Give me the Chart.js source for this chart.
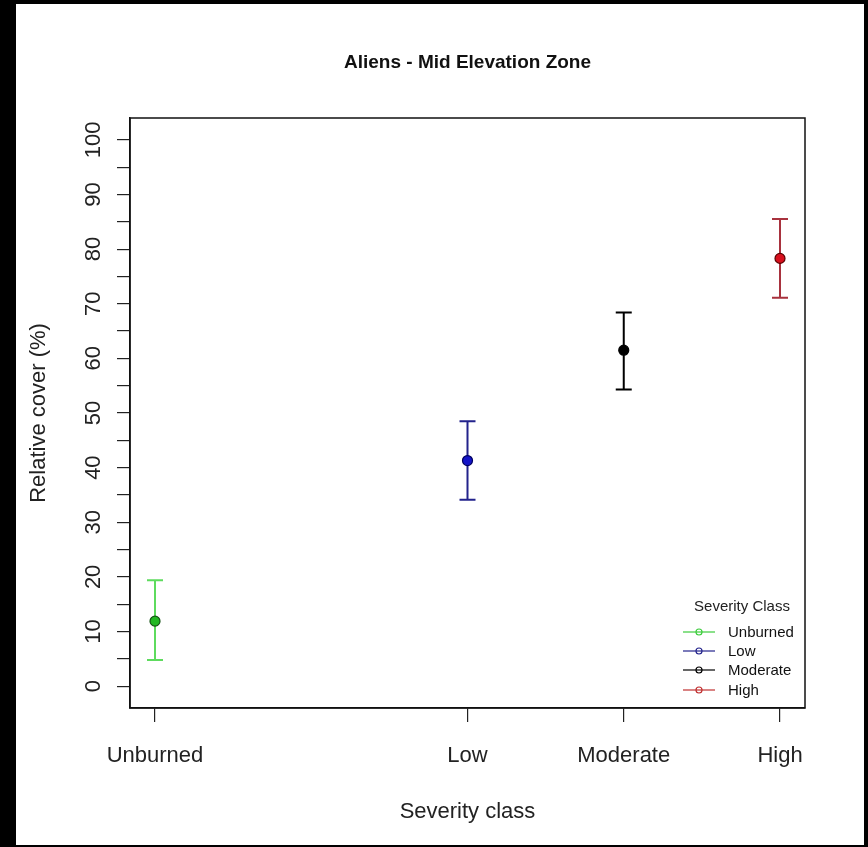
<!DOCTYPE html>
<html>
<head>
<meta charset="utf-8">
<script src="https://cdn.jsdelivr.net/npm/chart.js@4.4.1/dist/chart.umd.min.js"></script>
<style>
  html, body { margin: 0; padding: 0; background: #000; }
  #wrap { position: absolute; left: 16px; top: 4px; width: 848px; height: 841px; background: #fff; }
</style>
</head>
<body>
<div id="wrap"><canvas id="severityChart" width="848" height="841"></canvas></div>
<script>
"use strict";

// data
const classes = ["Unburned", "Low", "Moderate", "High"];
const xPos = [1, 3, 4, 5];
const means = [11.9, 41.3, 61.5, 78.3];
const lower = [4.8, 34.1, 54.3, 71.1];
const upper = [19.4, 48.5, 68.4, 85.5];
const yTicks = [0, 5, 10, 15, 20, 25, 30, 35, 40, 45, 50, 55, 60, 65, 70, 75, 80, 85, 90, 95, 100];

const barColors = ["#5edb5e", "#23238c", "#000000", "#a8323e"];
const pointColors = ["#22b822", "#1414c8", "#000000", "#d8101e"];
const pointBorders = ["#145214", "#000060", "#000000", "#5a0000"];
const legendColors = ["#3ccc3c", "#23238c", "#000000", "#c03030"];

const FONT = "'Liberation Sans', Arial, sans-serif";

// error bars, box, title and legend
const extras = {
  id: "extras",
  beforeDatasetsDraw(chart) {
    const ctx = chart.ctx;
    const xs = chart.scales.x;
    const ys = chart.scales.y;
    ctx.save();
    ctx.lineWidth = 2;
    for (let i = 0; i < classes.length; i++) {
      const px = xs.getPixelForValue(xPos[i]);
      const top = ys.getPixelForValue(upper[i]);
      const bot = ys.getPixelForValue(lower[i]);
      ctx.strokeStyle = barColors[i];
      ctx.beginPath();
      ctx.moveTo(px, top);
      ctx.lineTo(px, bot);
      ctx.moveTo(px - 8, top);
      ctx.lineTo(px + 8, top);
      ctx.moveTo(px - 8, bot);
      ctx.lineTo(px + 8, bot);
      ctx.stroke();
    }
    ctx.restore();
  },
  afterDraw(chart) {
    const ctx = chart.ctx;
    const a = chart.chartArea;
    ctx.save();
    // box
    ctx.strokeStyle = "#111";
    ctx.lineWidth = 1.5;
    ctx.strokeRect(a.left, a.top, a.right - a.left, a.bottom - a.top);

    // title
    ctx.fillStyle = "#111";
    ctx.font = "bold 19px " + FONT;
    ctx.textAlign = "center";
    ctx.textBaseline = "middle";
    ctx.fillText("Aliens - Mid Elevation Zone", (a.left + a.right) / 2, 59);

    // legend
    ctx.font = "15px " + FONT;
    ctx.fillStyle = "#222";
    ctx.fillText("Severity Class", a.right - 63, a.bottom - 101);
    ctx.textAlign = "left";
    const rows = [76, 57, 38, 18];
    for (let i = 0; i < classes.length; i++) {
      const y = a.bottom - rows[i];
      ctx.strokeStyle = legendColors[i];
      ctx.lineWidth = 1.2;
      ctx.beginPath();
      ctx.moveTo(a.right - 122, y);
      ctx.lineTo(a.right - 90, y);
      ctx.stroke();
      ctx.beginPath();
      ctx.arc(a.right - 106, y, 3, 0, Math.PI * 2);
      ctx.stroke();
      ctx.fillStyle = "#111";
      ctx.fillText(classes[i], a.right - 77, y + 1);
    }
    ctx.restore();
  }
};

const points = [];
for (let i = 0; i < classes.length; i++) {
  points.push({ x: xPos[i], y: means[i] });
}

const config = {
  type: "scatter",
  data: {
    datasets: [
      {
        label: "Relative cover",
        data: points,
        pointRadius: 5,
        pointHoverRadius: 5,
        pointBackgroundColor: pointColors,
        pointBorderColor: pointBorders,
        pointBorderWidth: 1.2
      }
    ]
  },
  options: {
    responsive: false,
    animation: false,
    layout: { padding: { top: 114, right: 59, left: 0, bottom: 0 } },
    plugins: {
      legend: { display: false },
      tooltip: { enabled: false }
    },
    scales: {
      x: {
        type: "linear",
        min: 0.84,
        max: 5.16,
        afterBuildTicks(scale) {
          scale.ticks = xPos.map(v => ({ value: v }));
        },
        afterFit(scale) { scale.height = 137; },
        ticks: {
          autoSkip: false,
          maxRotation: 0,
          padding: 21,
          color: "#222",
          font: { family: FONT, size: 22 },
          callback(value) {
            const idx = xPos.indexOf(value);
            return idx >= 0 ? classes[idx] : "";
          }
        },
        grid: { drawOnChartArea: false, tickLength: 14, color: "#222", lineWidth: 1.2 },
        border: { display: true, color: "#111", width: 1.5 },
        title: {
          display: true,
          text: "Severity class",
          color: "#222",
          font: { family: FONT, size: 22 },
          padding: { top: 0, bottom: 20 }
        }
      },
      y: {
        type: "linear",
        min: -4,
        max: 104,
        afterBuildTicks(scale) {
          scale.ticks = yTicks.map(v => ({ value: v }));
        },
        afterFit(scale) { scale.width = 114; },
        ticks: {
          autoSkip: false,
          minRotation: 90,
          maxRotation: 90,
          crossAlign: "center",
          padding: 5,
          color: "#222",
          font: { family: FONT, size: 22 },
          callback(value) {
            return value % 10 === 0 ? String(value) : "";
          }
        },
        grid: { drawOnChartArea: false, tickLength: 13, color: "#222", lineWidth: 1.2 },
        border: { display: true, color: "#111", width: 1.5 },
        title: {
          display: true,
          text: "Relative cover (%)",
          color: "#222",
          font: { family: FONT, size: 22 },
          padding: { top: 10, bottom: 0 }
        }
      }
    }
  },
  plugins: [extras]
};

const severityChart = new Chart(document.getElementById("severityChart"), config);
</script>
</body>
</html>
